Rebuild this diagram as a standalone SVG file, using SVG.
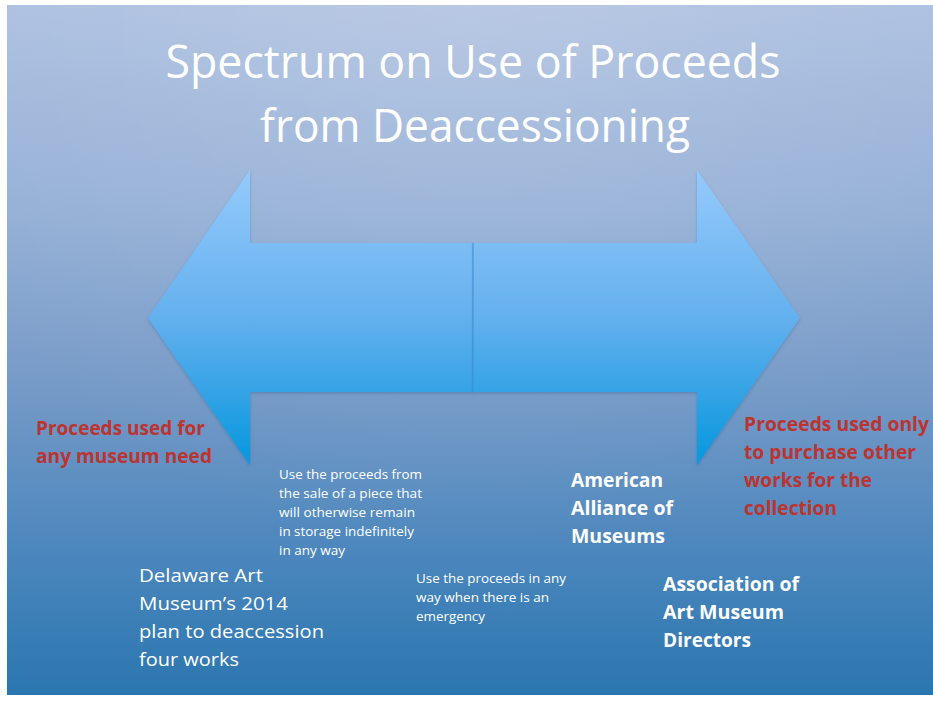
<svg xmlns="http://www.w3.org/2000/svg" width="933" height="702" viewBox="0 0 933 702">
  <defs>
    <linearGradient id="bg" gradientUnits="userSpaceOnUse" x1="0" y1="5" x2="0" y2="695">
      <stop offset="0" stop-color="#adc0e0"/>
      <stop offset="0.3" stop-color="#95b0d6"/>
      <stop offset="0.55" stop-color="#769ac7"/>
      <stop offset="0.8" stop-color="#4a86bd"/>
      <stop offset="1" stop-color="#2b76af"/>
    </linearGradient>
    <radialGradient id="sheen" gradientUnits="userSpaceOnUse" cx="470" cy="-60" r="620">
      <stop offset="0" stop-color="#ffffff" stop-opacity="0.16"/>
      <stop offset="0.6" stop-color="#ffffff" stop-opacity="0.05"/>
      <stop offset="1" stop-color="#ffffff" stop-opacity="0"/>
    </radialGradient>
    <linearGradient id="arrowFill" gradientUnits="userSpaceOnUse" x1="0" y1="170" x2="0" y2="465">
      <stop offset="0" stop-color="#95cafc"/>
      <stop offset="0.5" stop-color="#64b0ee"/>
      <stop offset="1" stop-color="#0597de"/>
    </linearGradient>
    <filter id="shadow" x="-10%" y="-10%" width="120%" height="120%">
      <feDropShadow dx="0" dy="1.5" stdDeviation="1.5" flood-color="#1f4f80" flood-opacity="0.3"/>
    </filter>
  </defs>
  <style>
    .title { font-family: "Open Sans", "Liberation Sans", sans-serif; font-size: 45px; fill: #ffffff; text-anchor: middle; }
    .red { font-family: "Open Sans", "Liberation Sans", sans-serif; font-weight: bold; font-size: 19px; fill: #bd332f; }
    .org { font-family: "Open Sans", "Liberation Sans", sans-serif; font-weight: bold; font-size: 19px; fill: #ffffff; }
    .case { font-family: "Open Sans", "Liberation Sans", sans-serif; font-size: 19px; fill: #ffffff; }
    .small { font-family: "Open Sans", "Liberation Sans", sans-serif; font-size: 12px; fill: #ffffff; }
    .arrow { fill: url(#arrowFill); filter: url(#shadow); }
  </style>

  <rect x="0" y="0" width="933" height="702" fill="#ffffff"/>
  <rect x="7" y="5" width="926" height="690" fill="url(#bg)"/>
  <rect x="7" y="5" width="926" height="690" fill="url(#sheen)"/>

  <g id="title">
    <text class="title" x="473" y="78" textLength="615" lengthAdjust="spacingAndGlyphs">Spectrum on Use of Proceeds</text>
    <text class="title" x="475" y="142" textLength="430" lengthAdjust="spacingAndGlyphs">from Deaccessioning</text>
  </g>

  <g id="connectors">
    <g id="arrow-left">
      <polygon class="arrow" points="148,318 250,170 250,243 473,243 473,392 250,392 250,465"/>
    </g>
    <g id="arrow-right">
      <polygon class="arrow" points="800,318 697,170 697,243 473,243 473,392 697,392 697,465"/>
    </g>
    <line x1="473" y1="243" x2="473" y2="392" stroke="#3f8fd2" stroke-width="1"/>
  </g>

  <g id="left-end">
    <text class="red" x="36" y="435" textLength="169" lengthAdjust="spacingAndGlyphs">Proceeds used for</text>
    <text class="red" x="36" y="463" textLength="176" lengthAdjust="spacingAndGlyphs">any museum need</text>
  </g>

  <g id="right-end">
    <text class="red" x="744" y="431" textLength="185" lengthAdjust="spacingAndGlyphs">Proceeds used only</text>
    <text class="red" x="744" y="459" textLength="172" lengthAdjust="spacingAndGlyphs">to purchase other</text>
    <text class="red" x="744" y="487" textLength="128" lengthAdjust="spacingAndGlyphs">works for the</text>
    <text class="red" x="744" y="515" textLength="93" lengthAdjust="spacingAndGlyphs">collection</text>
  </g>

  <g id="storage-case">
    <text class="small" x="279" y="479" textLength="143" lengthAdjust="spacingAndGlyphs">Use the proceeds from</text>
    <text class="small" x="279" y="498" textLength="143" lengthAdjust="spacingAndGlyphs">the sale of a piece that</text>
    <text class="small" x="279" y="517" textLength="136" lengthAdjust="spacingAndGlyphs">will otherwise remain</text>
    <text class="small" x="279" y="536" textLength="135" lengthAdjust="spacingAndGlyphs">in storage indefinitely</text>
    <text class="small" x="279" y="555" textLength="66" lengthAdjust="spacingAndGlyphs">in any way</text>
  </g>

  <g id="emergency-case">
    <text class="small" x="416" y="583" textLength="150" lengthAdjust="spacingAndGlyphs">Use the proceeds in any</text>
    <text class="small" x="416" y="602" textLength="133" lengthAdjust="spacingAndGlyphs">way when there is an</text>
    <text class="small" x="416" y="621" textLength="69" lengthAdjust="spacingAndGlyphs">emergency</text>
  </g>

  <g id="delaware">
    <text class="case" x="139" y="582" textLength="124" lengthAdjust="spacingAndGlyphs">Delaware Art</text>
    <text class="case" x="139" y="610" textLength="149" lengthAdjust="spacingAndGlyphs">Museum’s 2014</text>
    <text class="case" x="139" y="638" textLength="185" lengthAdjust="spacingAndGlyphs">plan to deaccession</text>
    <text class="case" x="139" y="666" textLength="100" lengthAdjust="spacingAndGlyphs">four works</text>
  </g>

  <g id="aam">
    <text class="org" x="571" y="487" textLength="92" lengthAdjust="spacingAndGlyphs">American</text>
    <text class="org" x="571" y="515" textLength="102" lengthAdjust="spacingAndGlyphs">Alliance of</text>
    <text class="org" x="571" y="543" textLength="94" lengthAdjust="spacingAndGlyphs">Museums</text>
  </g>

  <g id="aamd">
    <text class="org" x="663" y="591" textLength="136" lengthAdjust="spacingAndGlyphs">Association of</text>
    <text class="org" x="663" y="619" textLength="121" lengthAdjust="spacingAndGlyphs">Art Museum</text>
    <text class="org" x="663" y="647" textLength="88" lengthAdjust="spacingAndGlyphs">Directors</text>
  </g>
</svg>
